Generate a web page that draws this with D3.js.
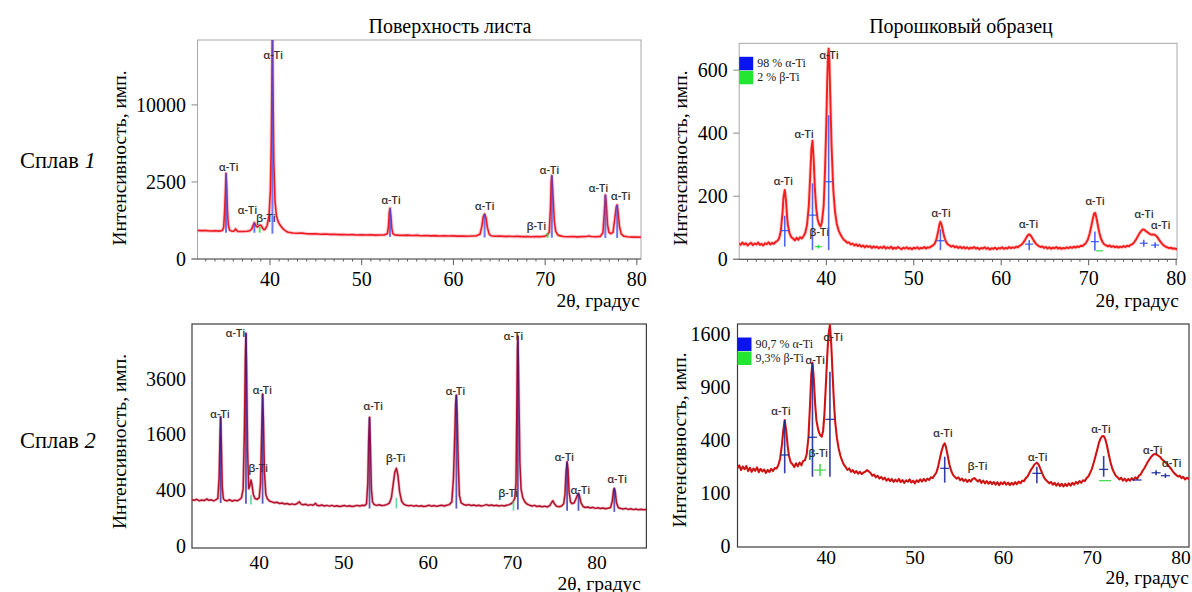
<!DOCTYPE html>
<html>
<head>
<meta charset="utf-8">
<script src="https://cdn.jsdelivr.net/npm/d3@7"></script>
<style>
  body { margin: 0; background: #fff; }
  svg { display: block; }
</style>
</head>
<body>
<svg id="fig" width="1192" height="592"></svg>
<script>
// ---------- X-ray diffraction patterns: [2θ, intensity] ----------

// Alloy 1, sheet surface
const sheet1Pattern = [
  [32.1,345],[32.5,338],[33.0,342],[33.5,330],[34.0,335],[34.5,328],[34.8,340],[34.95,420],[35.05,900],[35.15,2000],
  [35.21,3100],[35.28,2300],[35.36,1000],[35.46,480],[35.6,350],[35.8,330],[36.0,325],[36.15,345],[36.25,380],[36.35,350],
  [36.5,322],[37.0,318],[37.5,325],[37.8,335],[38.0,380],[38.15,470],[38.3,556],[38.45,470],[38.6,430],[38.75,455],
  [38.9,487],[39.05,470],[39.2,400],[39.35,360],[39.5,380],[39.7,480],[39.9,800],[40.05,2000],[40.15,6000],[40.22,14000],
  [40.27,20500],[40.33,12000],[40.42,4000],[40.55,1400],[40.7,800],[40.85,620],[41.0,530],[41.2,450],[41.4,390],[41.6,350],
  [41.8,320],[42.0,300],[42.5,285],[43.0,278],[43.5,282],[44.0,270],[44.5,265],[45.0,268],[45.5,258],[46.0,262],
  [46.5,255],[47.0,258],[47.5,250],[48.0,254],[48.5,247],[49.0,250],[49.5,244],[50.0,248],[50.5,242],[51.0,246],
  [51.5,240],[52.0,244],[52.5,246],[52.8,270],[52.92,450],[53.0,900],[53.09,1083],[53.18,800],[53.28,400],[53.4,270],
  [53.6,245],[54.0,240],[54.5,236],[55.0,240],[55.5,232],[56.0,236],[56.5,228],[57.0,232],[57.5,226],[58.0,230],
  [58.5,224],[59.0,228],[59.5,222],[60.0,226],[60.5,220],[61.0,224],[61.5,218],[62.0,222],[62.5,226],[62.9,260],
  [63.1,450],[63.25,760],[63.4,853],[63.55,720],[63.7,420],[63.9,260],[64.1,228],[64.5,218],[65.0,222],[65.5,215],
  [66.0,218],[66.5,212],[67.0,216],[67.5,210],[68.0,214],[68.5,208],[69.0,212],[69.5,210],[70.0,220],[70.2,240],
  [70.45,300],[70.58,1100],[70.66,2500],[70.73,2926],[70.8,2300],[70.9,1300],[71.0,600],[71.15,320],[71.4,240],[71.8,220],
  [72.0,214],[72.5,208],[73.0,212],[73.5,206],[74.0,210],[74.5,214],[74.8,222],[75.0,212],[75.5,208],[76.0,215],
  [76.3,290],[76.45,900],[76.57,1727],[76.68,1200],[76.8,500],[76.95,300],[77.15,270],[77.4,300],[77.6,700],[77.75,1150],
  [77.85,1230],[77.96,900],[78.1,450],[78.3,260],[78.6,218],[79.0,208],[79.5,202],[80.0,205],[80.45,198]
];
// reference lines: [2θ, from, to]
const sheet1Alpha = [[35.21,290,3100],[38.3,290,556],[40.27,270,20500],[53.09,205,1083],[63.4,195,853],[70.73,190,2926],[76.57,185,1727],[77.85,185,1230]];
const sheet1Beta = [[38.88,290,430],[70.26,190,290]];
// phase labels: [2θ, intensity, text]
const sheet1Labels = [[35.49,3570,"α-Ti"],[37.55,1012,"α-Ti"],[39.56,709,"β-Ti"],[40.35,17550,"α-Ti"],[53.2,1468,"α-Ti"],[63.4,1184,"α-Ti"],[69.05,459,"β-Ti"],[70.46,3340,"α-Ti"],[75.8,2125,"α-Ti"],[78.24,1674,"α-Ti"]];
const sheet1YTicks = [0, 2500, 10000];

// Alloy 1, powder sample
const powder1Pattern = [
  [30.0,50],[30.2,46],[30.4,53],[30.6,47],[30.8,51],[31.0,44],[31.2,49],[31.4,52],[31.6,45],[31.8,50],
  [32.0,47],[32.2,53],[32.4,46],[32.6,49],[32.8,44],[33.0,51],[33.2,48],[33.4,54],[33.6,47],[33.8,52],
  [34.0,49],[34.2,55],[34.4,58],[34.6,66],[34.8,90],[35.0,150],[35.1,195],[35.25,220],[35.4,185],[35.5,140],
  [35.6,110],[35.8,82],[36.0,70],[36.2,66],[36.4,60],[36.6,68],[36.8,62],[37.0,70],[37.2,66],[37.4,74],
  [37.6,84],[37.8,110],[38.0,170],[38.2,290],[38.3,350],[38.42,376],[38.55,320],[38.7,220],[38.85,160],[39.0,128],
  [39.2,110],[39.35,104],[39.5,118],[39.7,170],[39.85,280],[40.0,430],[40.1,560],[40.2,650],[40.27,668],[40.35,630],
  [40.45,520],[40.6,360],[40.8,220],[41.0,150],[41.2,112],[41.4,92],[41.6,80],[41.8,70],[42.0,62],[42.2,58],
  [42.4,52],[42.6,54],[42.8,47],[43.0,50],[43.2,44],[43.4,48],[43.6,42],[43.8,46],[44.0,40],[44.2,44],
  [44.4,38],[44.6,43],[44.8,39],[45.0,42],[45.2,36],[45.4,41],[45.6,37],[45.8,40],[46.0,35],[46.2,39],
  [46.4,36],[46.6,41],[46.8,34],[47.0,38],[47.2,35],[47.4,40],[47.6,33],[47.8,37],[48.0,34],[48.2,39],
  [48.4,35],[48.6,32],[48.8,37],[49.0,34],[49.2,38],[49.4,33],[49.6,36],[49.8,32],[50.0,37],[50.2,34],
  [50.4,38],[50.6,33],[50.8,36],[51.0,35],[51.2,39],[51.4,34],[51.6,38],[51.8,37],[52.0,41],[52.2,44],
  [52.4,50],[52.6,64],[52.8,90],[52.95,112],[53.05,119],[53.2,108],[53.35,88],[53.5,70],[53.7,55],[53.9,47],
  [54.1,44],[54.3,40],[54.5,43],[54.7,38],[54.9,41],[55.1,36],[55.3,40],[55.5,35],[55.7,39],[55.9,34],
  [56.1,38],[56.3,33],[56.5,37],[56.7,35],[56.9,39],[57.1,34],[57.3,37],[57.5,32],[57.7,36],[57.9,34],
  [58.1,38],[58.3,33],[58.5,36],[58.7,31],[58.9,35],[59.1,33],[59.3,37],[59.5,32],[59.7,36],[59.9,34],
  [60.1,38],[60.3,33],[60.5,36],[60.7,34],[60.9,39],[61.1,35],[61.3,38],[61.5,36],[61.7,40],[61.9,38],
  [62.1,43],[62.3,46],[62.5,52],[62.7,60],[62.9,70],[63.05,77],[63.2,79],[63.35,76],[63.5,70],[63.7,60],
  [63.9,52],[64.1,46],[64.3,42],[64.5,39],[64.7,41],[64.9,36],[65.1,39],[65.3,34],[65.5,38],[65.7,33],
  [65.9,37],[66.1,35],[66.3,39],[66.5,34],[66.7,37],[66.9,33],[67.1,36],[67.3,34],[67.5,38],[67.7,35],
  [67.9,39],[68.1,36],[68.3,40],[68.5,37],[68.7,41],[68.9,39],[69.1,43],[69.3,42],[69.5,47],[69.7,52],
  [69.9,62],[70.1,80],[70.3,105],[70.5,132],[70.62,145],[70.75,147],[70.9,130],[71.05,108],[71.2,86],[71.4,66],
  [71.6,54],[71.8,47],[72.0,44],[72.2,41],[72.4,44],[72.6,39],[72.8,42],[73.0,38],[73.2,41],[73.4,37],
  [73.6,40],[73.8,38],[74.0,42],[74.2,39],[74.4,43],[74.6,41],[74.8,46],[75.0,48],[75.2,54],[75.4,62],
  [75.6,72],[75.8,82],[76.0,90],[76.2,95],[76.4,93],[76.6,88],[76.8,84],[77.0,80],[77.2,78],[77.4,79],
  [77.6,77],[77.8,72],[78.0,64],[78.2,56],[78.4,49],[78.6,44],[78.8,40],[79.0,38],[79.2,35],[79.4,37],
  [79.6,33],[79.8,35],[80.0,32],[80.1,34]
];
// reference lines: [2θ, from, to, cross mark]
const powder1Alpha = [[35.25,40,138,91],[38.42,29,241,140],[40.27,29,457,246],[53.05,29,95,59],[63.2,29,61,48],[70.71,27,88,56],[76.3,40,62,51],[77.6,36,54,45]];
const powder1Beta = [[39.1,34,46,40],[71.25,27,27,27]];
const powder1Labels = [[35.08,251,"α-Ti"],[37.45,399,"α-Ti"],[40.31,648,"α-Ti"],[39.2,87,"β-Ti"],[53.12,150,"α-Ti"],[63.12,115,"α-Ti"],[70.73,185,"α-Ti"],[76.33,146,"α-Ti"],[78.24,109,"α-Ti"]];
const powder1YTicks = [0, 200, 400, 600];
const powder1Legend = ["98 % α-Ti", "2 % β-Ti"];

// Alloy 2, sheet surface
const sheet2Pattern = [
  [32.04,275],[32.3,268],[32.6,280],[32.9,262],[33.2,272],[33.5,265],[33.8,285],[34.0,268],[34.3,274],[34.6,262],
  [34.9,276],[35.1,290],[35.25,600],[35.35,1500],[35.43,2147],[35.52,1300],[35.62,450],[35.75,290],[35.9,270],[36.2,262],
  [36.5,275],[36.8,258],[37.1,270],[37.4,262],[37.7,280],[37.9,300],[38.1,420],[38.25,1800],[38.35,4500],[38.43,5810],
  [38.51,4000],[38.62,1200],[38.75,420],[38.88,460],[39.02,560],[39.15,480],[39.3,340],[39.5,290],[39.75,280],[40.0,300],
  [40.15,500],[40.3,1800],[40.4,2968],[40.5,2000],[40.62,700],[40.78,340],[40.95,290],[41.2,260],[41.5,250],[41.8,240],
  [42.1,246],[42.4,232],[42.7,238],[43.0,226],[43.3,232],[43.6,222],[43.9,228],[44.2,220],[44.5,232],[44.75,252],
  [44.95,225],[45.2,218],[45.5,224],[45.8,212],[46.1,220],[46.4,214],[46.65,235],[46.85,214],[47.1,208],[47.4,216],
  [47.7,206],[48.0,212],[48.3,204],[48.6,212],[48.9,202],[49.2,208],[49.5,200],[49.8,206],[50.1,210],[50.4,202],
  [50.7,208],[51.0,200],[51.3,206],[51.6,212],[51.9,205],[52.2,214],[52.5,210],[52.7,230],[52.85,500],[52.95,1400],
  [53.06,2127],[53.16,1300],[53.28,420],[53.42,250],[53.6,222],[53.9,212],[54.2,218],[54.5,210],[54.8,214],[55.1,220],
  [55.4,236],[55.65,300],[55.85,480],[56.05,700],[56.24,776],[56.42,640],[56.62,380],[56.85,260],[57.1,225],[57.4,214],
  [57.7,208],[58.0,212],[58.3,204],[58.6,210],[58.9,202],[59.2,208],[59.5,200],[59.8,206],[60.1,214],[60.4,204],
  [60.7,210],[61.0,202],[61.3,208],[61.6,214],[61.9,206],[62.2,214],[62.5,220],[62.8,250],[63.0,600],[63.15,1600],
  [63.25,2600],[63.34,2929],[63.44,2200],[63.56,900],[63.7,330],[63.9,240],[64.2,222],[64.5,214],[64.8,220],[65.1,210],
  [65.4,216],[65.7,208],[66.0,214],[66.3,206],[66.6,212],[66.9,220],[67.2,210],[67.5,216],[67.8,208],[68.1,214],
  [68.4,206],[68.7,212],[69.0,206],[69.3,214],[69.6,220],[69.85,232],[70.05,250],[70.25,290],[70.4,500],[70.5,2500],
  [70.57,5000],[70.62,5666],[70.68,4500],[70.76,2600],[70.86,900],[71.0,420],[71.2,300],[71.45,250],[71.7,226],[72.0,214],
  [72.3,206],[72.6,212],[72.9,200],[73.2,206],[73.5,198],[73.8,204],[74.1,196],[74.4,210],[74.6,240],[74.77,263],
  [74.95,230],[75.2,204],[75.5,198],[75.8,206],[76.05,230],[76.2,340],[76.32,700],[76.45,913],[76.56,760],[76.68,380],
  [76.85,250],[77.05,230],[77.3,240],[77.55,300],[77.7,340],[77.8,357],[77.92,320],[78.1,240],[78.35,200],[78.6,190],
  [78.9,196],[79.2,186],[79.5,192],[79.8,182],[80.1,188],[80.4,180],[80.7,186],[81.0,178],[81.3,184],[81.6,190],
  [81.8,260],[81.95,400],[82.04,428],[82.15,380],[82.3,240],[82.5,190],[82.8,180],[83.1,176],[83.4,182],[83.7,172],
  [84.0,178],[84.3,170],[84.6,176],[84.9,168],[85.2,174],[85.5,168],[85.84,172]
];
const sheet2Alpha = [[35.43,237,2147],[38.43,230,5810],[40.4,230,2968],[53.06,180,2127],[63.34,180,2929],[70.62,170,5666],[76.45,160,913],[77.8,160,357],[82.04,150,428]];
const sheet2Beta = [[39.02,220,330],[56.24,180,300],[70.1,160,260]];
const sheet2Labels = [[35.35,2263,"α-Ti"],[37.18,5845,"α-Ti"],[39.88,796,"β-Ti"],[40.36,3156,"α-Ti"],[53.49,2529,"α-Ti"],[56.15,1001,"β-Ti"],[63.22,3126,"α-Ti"],[70.1,5719,"α-Ti"],[69.47,365,"β-Ti"],[76.12,1024,"α-Ti"],[78.02,413,"α-Ti"],[82.37,589,"α-Ti"]];
const sheet2YTicks = [0, 400, 1600, 3600];

// Alloy 2, powder sample
const powder2Pattern = [
  [30.0,215],[30.2,232],[30.4,205],[30.6,225],[30.8,210],[31.0,228],[31.2,200],[31.4,218],[31.6,196],[31.8,214],
  [32.0,201],[32.2,220],[32.4,194],[32.6,212],[32.8,198],[33.0,208],[33.2,190],[33.4,206],[33.6,195],[33.8,212],
  [34.0,200],[34.2,216],[34.4,214],[34.6,232],[34.8,270],[35.0,360],[35.15,470],[35.32,565],[35.5,470],[35.65,360],
  [35.8,290],[36.0,250],[36.2,238],[36.4,222],[36.6,244],[36.8,226],[37.0,248],[37.2,232],[37.4,258],[37.6,262],
  [37.8,300],[38.0,420],[38.2,760],[38.32,1050],[38.45,1196],[38.6,1000],[38.75,720],[38.9,560],[39.1,480],[39.3,440],
  [39.5,425],[39.65,470],[39.8,620],[39.95,900],[40.1,1250],[40.25,1580],[40.42,1739],[40.55,1500],[40.7,1100],[40.85,780],
  [41.0,560],[41.2,420],[41.4,340],[41.6,290],[41.8,258],[42.0,235],[42.2,222],[42.4,206],[42.6,214],[42.8,196],
  [43.0,205],[43.2,190],[43.4,200],[43.6,186],[43.8,196],[44.0,184],[44.2,192],[44.4,196],[44.6,205],[44.8,198],
  [45.0,190],[45.2,176],[45.4,182],[45.6,168],[45.8,176],[46.0,162],[46.2,170],[46.4,158],[46.6,166],[46.8,152],
  [47.0,162],[47.2,150],[47.4,160],[47.6,146],[47.8,157],[48.0,148],[48.2,160],[48.4,145],[48.6,155],[48.8,142],
  [49.0,154],[49.2,147],[49.4,158],[49.6,144],[49.8,152],[50.0,140],[50.2,154],[50.4,146],[50.6,158],[50.8,148],
  [51.0,160],[51.2,150],[51.4,162],[51.6,155],[51.8,168],[52.0,164],[52.2,178],[52.4,190],[52.6,220],[52.8,270],
  [53.0,320],[53.2,360],[53.36,375],[53.5,350],[53.7,290],[53.9,235],[54.1,200],[54.3,180],[54.5,170],[54.7,162],
  [54.9,168],[55.1,154],[55.3,162],[55.5,150],[55.7,158],[55.9,146],[56.1,156],[56.3,148],[56.5,160],[56.7,164],
  [56.9,156],[57.1,148],[57.3,156],[57.5,142],[57.7,152],[57.9,140],[58.1,150],[58.3,138],[58.5,148],[58.7,136],
  [58.9,146],[59.1,134],[59.3,145],[59.5,132],[59.7,144],[59.9,136],[60.1,146],[60.3,134],[60.5,143],[60.7,132],
  [60.9,142],[61.1,134],[61.3,145],[61.5,136],[61.7,148],[61.9,140],[62.1,152],[62.3,150],[62.5,164],[62.7,172],
  [62.9,190],[63.1,208],[63.3,222],[63.5,238],[63.75,247],[63.95,236],[64.15,212],[64.35,188],[64.55,168],[64.75,156],
  [64.95,148],[65.15,140],[65.35,146],[65.55,134],[65.75,142],[65.95,130],[66.15,140],[66.35,128],[66.55,138],[66.75,126],
  [66.95,137],[67.15,128],[67.35,140],[67.55,130],[67.75,142],[67.95,134],[68.15,146],[68.35,138],[68.55,150],[68.75,142],
  [68.95,154],[69.15,150],[69.35,164],[69.55,172],[69.75,190],[69.95,212],[70.15,245],[70.35,285],[70.55,330],[70.75,380],
  [70.95,415],[71.1,428],[71.28,431],[71.45,410],[71.65,360],[71.85,300],[72.05,250],[72.25,214],[72.45,192],[72.65,176],
  [72.85,168],[73.05,158],[73.25,166],[73.45,152],[73.65,162],[73.85,150],[74.05,160],[74.25,152],[74.45,164],[74.65,155],
  [74.85,168],[75.05,160],[75.25,176],[75.45,182],[75.65,200],[75.85,214],[76.05,232],[76.25,252],[76.45,268],[76.65,284],
  [76.85,296],[77.05,301],[77.25,298],[77.45,290],[77.65,282],[77.85,268],[78.05,258],[78.25,248],[78.45,240],[78.65,226],
  [78.85,214],[79.05,200],[79.25,188],[79.45,180],[79.65,172],[79.85,176],[80.05,164],[80.25,170],[80.45,158],[80.65,166],
  [80.9,160]
];
const powder2Alpha = [[35.32,188,565,295],[38.45,171,1189,421],[40.42,171,1081,571],[53.36,143,284,215],[63.75,140,224,188],[71.28,171,288,209],[75.05,155,155,155],[77.19,178,205,191],[78.24,165,188,176]];
const powder2Beta = [[39.3,174,239,205],[71.45,152,152,152]];
const powder2Labels = [[34.9,658,"α-Ti"],[38.75,1232,"α-Ti"],[40.79,1570,"α-Ti"],[39.1,313,"β-Ti"],[53.16,457,"α-Ti"],[57.06,232,"β-Ti"],[63.83,284,"α-Ti"],[70.96,493,"α-Ti"],[76.8,333,"α-Ti"],[78.95,247,"α-Ti"]];
const powder2YTicks = [0, 100, 400, 900, 1600];
const powder2Legend = ["90,7 % α-Ti", "9,3% β-Ti"];

const xTicks = [40, 50, 60, 70, 80];
const columnTitles = ["Поверхность листа", "Порошковый образец"];
const rowTitles = ["1", "2"];
const yTitle = "Интенсивность, имп.";
const xTitle = "2θ, градус";

// ---------- drawing ----------
const svg = d3.select("#fig");
const SERIF = "'Liberation Serif','Times New Roman',serif";
const SANS = "'Open Sans','Liberation Sans',Arial,sans-serif";

function drawPanel(p) {
  const x = d3.scaleLinear().domain(p.xDomain).range([p.left, p.right]);
  const y = (p.sqrt ? d3.scaleSqrt() : d3.scaleLinear()).domain(p.yDomain).range([p.zeroY, p.top]);
  const g = svg.append("g");

  const clipId = "clip-" + p.id;
  svg.append("clipPath").attr("id", clipId).append("rect")
    .attr("x", p.left).attr("y", p.top)
    .attr("width", p.right - p.left).attr("height", p.bottom - p.top);

  // frame
  g.append("rect")
    .attr("x", p.left).attr("y", p.top)
    .attr("width", p.right - p.left).attr("height", p.bottom - p.top)
    .attr("fill", "none").attr("stroke", p.frameColor).attr("stroke-width", p.frameWidth);

  if (p.ticked) {
    // bottom axis with one-degree minor ticks
    g.append("line")
      .attr("x1", p.left - 6).attr("x2", p.right)
      .attr("y1", p.bottom).attr("y2", p.bottom)
      .attr("stroke", "#5a5a5a").attr("stroke-width", 1.2);
    const degrees = d3.range(Math.ceil(p.xDomain[0]), Math.floor(p.xDomain[1]) + 1);
    g.selectAll(null).data(degrees).join("line")
      .attr("x1", d => x(d)).attr("x2", d => x(d))
      .attr("y1", p.bottom).attr("y2", d => p.bottom + (d % 10 === 0 ? 6 : 2.5))
      .attr("stroke", "#5a5a5a").attr("stroke-width", 1);
    g.selectAll(null).data(p.yTicks).join("line")
      .attr("x1", p.left - 6).attr("x2", p.left)
      .attr("y1", d => y(d)).attr("y2", d => y(d))
      .attr("stroke", "#8a8a8a").attr("stroke-width", 1);
  }

  // tick labels
  g.selectAll(null).data(xTicks).join("text")
    .attr("x", d => x(d)).attr("y", p.bottom + p.xLabelGap)
    .attr("text-anchor", "middle").attr("dominant-baseline", "central")
    .attr("font-family", SERIF).attr("font-size", p.xTickSize || 20).attr("fill", "#000")
    .text(d => d);
  g.selectAll(null).data(p.yTicks).join("text")
    .attr("x", p.left - p.yLabelGap).attr("y", d => y(d))
    .attr("text-anchor", "end").attr("dominant-baseline", "central")
    .attr("font-family", SERIF).attr("font-size", 20).attr("fill", "#000")
    .text(d => d);

  // axis titles
  g.append("text")
    .attr("transform", `translate(${p.yTitleX},${p.yTitleY}) rotate(-90)`)
    .attr("text-anchor", "middle").attr("dominant-baseline", "central")
    .attr("font-family", SERIF).attr("font-size", 19.5).attr("fill", "#000")
    .text(yTitle);
  g.append("text")
    .attr("x", p.xTitleX).attr("y", p.xTitleY)
    .attr("text-anchor", "end").attr("dominant-baseline", "central")
    .attr("font-family", SERIF).attr("font-size", 19.5).attr("fill", "#000")
    .text(xTitle);

  // diffraction curve
  const line = d3.line().x(d => x(d[0])).y(d => y(d[1]));
  const plot = g.append("g").attr("clip-path", `url(#${clipId})`);
  if (p.halo) {
    plot.append("path").datum(p.pattern).attr("d", line)
      .attr("fill", "none").attr("stroke", p.halo).attr("stroke-width", p.haloWidth)
      .attr("stroke-linejoin", "round");
  }
  plot.append("path").datum(p.pattern).attr("d", line)
    .attr("fill", "none").attr("stroke", p.lineColor).attr("stroke-width", p.lineWidth)
    .attr("stroke-linejoin", "round");
  if (p.core) {
    plot.append("path").datum(p.pattern).attr("d", line)
      .attr("fill", "none").attr("stroke", p.core).attr("stroke-width", 0.7)
      .attr("stroke-linejoin", "round").attr("opacity", 0.45);
  }

  // phase reference lines
  const drawSticks = (rows, color, width, opacity, markWidth) => {
    plot.selectAll(null).data(rows).join("line")
      .attr("x1", d => x(d[0])).attr("x2", d => x(d[0]))
      .attr("y1", d => y(d[1])).attr("y2", d => y(d[2]))
      .attr("stroke", color).attr("stroke-width", width).attr("opacity", opacity);
    if (markWidth) {
      plot.selectAll(null).data(rows).join("line")
        .attr("x1", d => x(d[0]) - markWidth / 2).attr("x2", d => x(d[0]) + markWidth / 2)
        .attr("y1", d => y(d[3])).attr("y2", d => y(d[3]))
        .attr("stroke", color).attr("stroke-width", 1.3).attr("opacity", opacity);
    }
  };
  drawSticks(p.alpha, p.alphaColor, p.stickWidth, p.stickOpacity, p.alphaMark);
  drawSticks(p.beta, p.betaColor, p.stickWidth, p.stickOpacity, p.betaMark);

  // phase labels
  g.selectAll(null).data(p.labels).join("text")
    .attr("x", d => x(d[0])).attr("y", d => y(d[1]))
    .attr("text-anchor", "middle").attr("dominant-baseline", "central")
    .attr("font-family", SANS).attr("font-weight", 600).attr("font-size", 11)
    .attr("fill", "#333")
    .text(d => d[2]);

  // legend
  if (p.legend) {
    const colors = ["#0a14f0", "#22e632"];
    p.legend.forEach((txt, i) => {
      const ly = p.top + 13.5 + i * 14;
      g.append("rect").attr("x", p.left).attr("y", ly).attr("width", 14).attr("height", 13.5)
        .attr("fill", colors[i]);
      g.append("text").attr("x", p.left + 18).attr("y", ly + 6.5)
        .attr("dominant-baseline", "central")
        .attr("font-family", SERIF).attr("font-size", 12).attr("fill", "#222")
        .text(txt);
    });
  }
}

const panels = [
  {
    id: "s1", pattern: sheet1Pattern, alpha: sheet1Alpha, beta: sheet1Beta, labels: sheet1Labels, yTicks: sheet1YTicks,
    left: 197.5, right: 641, top: 40, bottom: 259, zeroY: 259,
    xDomain: [32.1, 80.45], yDomain: [0, 20200], sqrt: true,
    frameColor: "#a8a8a8", frameWidth: 1, ticked: true, xLabelGap: 19.5, yLabelGap: 11.5,
    lineColor: "#ec1c24", lineWidth: 1.6, halo: "rgba(240,90,110,0.35)", haloWidth: 3.5,
    alphaColor: "#3a4cf5", betaColor: "#2ad63a", stickWidth: 2, stickOpacity: 0.75,
    yTitleX: 119.5, yTitleY: 158, xTitleX: 640, xTitleY: 300
  },
  {
    id: "p1", pattern: powder1Pattern, alpha: powder1Alpha, beta: powder1Beta, labels: powder1Labels, yTicks: powder1YTicks,
    left: 739.2, right: 1177, top: 43.3, bottom: 259.3, zeroY: 259.3,
    xDomain: [30.04, 80.1], yDomain: [0, 685], sqrt: false,
    frameColor: "#a8a8a8", frameWidth: 1, ticked: true, xLabelGap: 19, yLabelGap: 11.5,
    lineColor: "#f51d1d", lineWidth: 1.9, halo: "rgba(255,90,90,0.3)", haloWidth: 3.6,
    alphaColor: "#2f4df2", betaColor: "#22d83a", stickWidth: 1.6, stickOpacity: 0.85, alphaMark: 8, betaMark: 7,
    legend: powder1Legend,
    yTitleX: 680, yTitleY: 158, xTitleX: 1179, xTitleY: 300
  },
  {
    id: "s2", pattern: sheet2Pattern, alpha: sheet2Alpha, beta: sheet2Beta, labels: sheet2Labels, yTicks: sheet2YTicks,
    left: 192, right: 646.4, top: 324, bottom: 548, zeroY: 546,
    xDomain: [32.04, 85.84], yDomain: [0, 6331], sqrt: true,
    frameColor: "#3c3c3c", frameWidth: 1.2, ticked: false, xLabelGap: 14.5, xTickSize: 19.5, yLabelGap: 6,
    lineColor: "#b3122c", lineWidth: 1.5, halo: "rgba(200,40,70,0.3)", haloWidth: 3,
    alphaColor: "#2a1f9e", betaColor: "#3ed08a", stickWidth: 1.8, stickOpacity: 0.75,
    yTitleX: 119.5, yTitleY: 441.5, xTitleX: 641, xTitleY: 583
  },
  {
    id: "p2", pattern: powder2Pattern, alpha: powder2Alpha, beta: powder2Beta, labels: powder2Labels, yTicks: powder2YTicks,
    left: 737.5, right: 1189, top: 324, bottom: 547, zeroY: 546,
    xDomain: [30, 80.9], yDomain: [0, 1755], sqrt: true,
    frameColor: "#3c3c3c", frameWidth: 1.2, ticked: false, xLabelGap: 10.5, xTickSize: 19.5, yLabelGap: 7,
    lineColor: "#e01a18", lineWidth: 2.1, core: "#6e0808",
    alphaColor: "#1b2a9a", betaColor: "#38d840", stickWidth: 1.6, stickOpacity: 0.9, alphaMark: 9, betaMark: 12,
    legend: powder2Legend,
    yTitleX: 679.5, yTitleY: 440, xTitleX: 1189, xTitleY: 577
  }
];

panels.forEach(drawPanel);

// column titles
[450, 961].forEach((cx, i) => {
  svg.append("text").attr("x", cx).attr("y", 26)
    .attr("text-anchor", "middle").attr("dominant-baseline", "central")
    .attr("font-family", SERIF).attr("font-size", 20).attr("fill", "#000")
    .text(columnTitles[i]);
});

// row titles: "Сплав" with italic alloy number
[160, 440].forEach((cy, i) => {
  const t = svg.append("text").attr("x", 20).attr("y", cy)
    .attr("dominant-baseline", "central")
    .attr("font-family", SERIF).attr("font-size", 22.5).attr("fill", "#000");
  t.append("tspan").text("Сплав ");
  t.append("tspan").attr("font-style", "italic").text(rowTitles[i]);
});
</script>
</body>
</html>
